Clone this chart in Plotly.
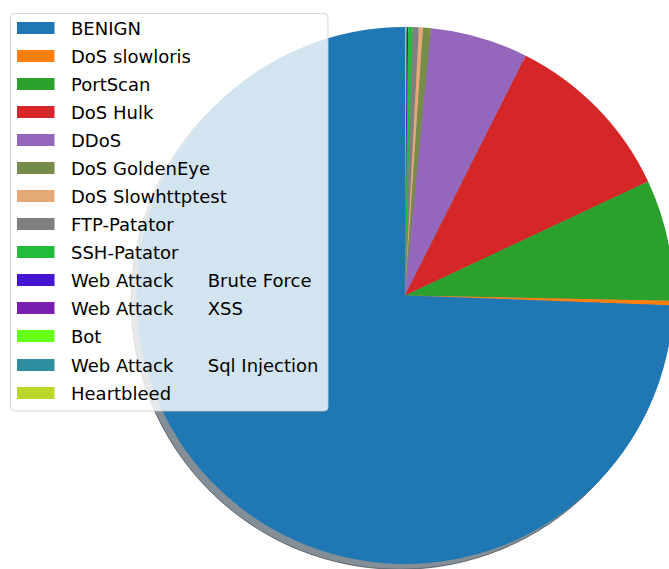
import plotly.graph_objects as go

# ---- data ----
labels = [
    "BENIGN", "DoS slowloris", "PortScan", "DoS Hulk", "DDoS", "DoS GoldenEye",
    "DoS Slowhttptest", "FTP-Patator", "SSH-Patator",
    "Web Attack \u00a0\u00a0\u00a0\u00a0 Brute Force", "Web Attack \u00a0\u00a0\u00a0\u00a0 XSS", "Bot",
    "Web Attack \u00a0\u00a0\u00a0\u00a0 Sql Injection", "Heartbleed",
]
counts = [1622000, 5796, 158930, 231073, 128027, 10293, 5499, 7938, 5897,
          1507, 652, 1966, 21, 11]
colors = ["#1f77b4", "#ff7f0e", "#2ca02c", "#d62728", "#9467bd", "#778c48",
          "#e5a977", "#7f7f7f", "#22bb3c", "#4515d0", "#7a1fb0", "#66ff14",
          "#2e8ea0", "#bcd62a"]

# ---- geometry (pixels) ----
W, H = 674, 569
cx, cy, r = 405.0, 295.5, 268.5
sh = 5.4  # shadow offset

def px(x):
    return x / W

def py(y):
    return 1 - y / H

# matplotlib draws BENIGN starting at 12 o'clock going counterclockwise;
# in plotly that is the reversed sequence laid out clockwise from 12 o'clock.
fig = go.Figure()
fig.add_trace(go.Pie(
    labels=labels[::-1], values=counts[::-1], sort=False, direction="clockwise",
    rotation=0, textinfo="none", hoverinfo="label+value+percent",
    marker=dict(colors=colors[::-1], line=dict(width=0)),
    domain=dict(x=[px(cx - r), px(cx + r)], y=[py(cy + r), py(cy - r)]),
    showlegend=False,
))

shapes = []
# shadow of the pie
shapes.append(dict(type="circle", xref="paper", yref="paper", layer="below",
                   x0=px(cx - r - sh), x1=px(cx + r - sh),
                   y0=py(cy + r + sh), y1=py(cy - r + sh),
                   fillcolor="rgba(8,30,45,0.5)",
                   line=dict(color="rgba(40,50,60,0.6)", width=1)))

# legend frame (rounded rectangle)
lx0, lx1, ly0, ly1, rc = 10.5, 328, 13.5, 411, 4
path = (f"M{px(lx0+rc)},{py(ly0)} L{px(lx1-rc)},{py(ly0)} Q{px(lx1)},{py(ly0)} {px(lx1)},{py(ly0+rc)} "
        f"L{px(lx1)},{py(ly1-rc)} Q{px(lx1)},{py(ly1)} {px(lx1-rc)},{py(ly1)} "
        f"L{px(lx0+rc)},{py(ly1)} Q{px(lx0)},{py(ly1)} {px(lx0)},{py(ly1-rc)} "
        f"L{px(lx0)},{py(ly0+rc)} Q{px(lx0)},{py(ly0)} {px(lx0+rc)},{py(ly0)} Z")
shapes.append(dict(type="path", xref="paper", yref="paper", layer="above", path=path,
                   fillcolor="rgba(255,255,255,0.8)",
                   line=dict(color="rgba(204,204,204,0.8)", width=1)))

annotations = []
for i, (lab, col) in enumerate(zip(labels, colors)):
    yc = 28 + 28 * i + (1 if i >= 12 else 0)
    shapes.append(dict(type="rect", xref="paper", yref="paper", layer="above",
                       x0=px(17), x1=px(54.5), y0=py(yc + 6), y1=py(yc - 6),
                       fillcolor=col, line=dict(width=0)))
    annotations.append(dict(text=lab, xref="paper", yref="paper",
                            x=px(69), y=py(yc + 0.5), xanchor="left", yanchor="middle",
                            showarrow=False,
                            font=dict(family="DejaVu Sans", size=18, color="#000000")))

fig.update_layout(
    width=W, height=H, margin=dict(l=0, r=0, t=0, b=0),
    paper_bgcolor="white", plot_bgcolor="white",
    showlegend=False, shapes=shapes, annotations=annotations,
)

fig.write_html("out.html",
               post_script="document.documentElement.style.overflow='hidden';"
                           "document.body.style.overflow='hidden';")
